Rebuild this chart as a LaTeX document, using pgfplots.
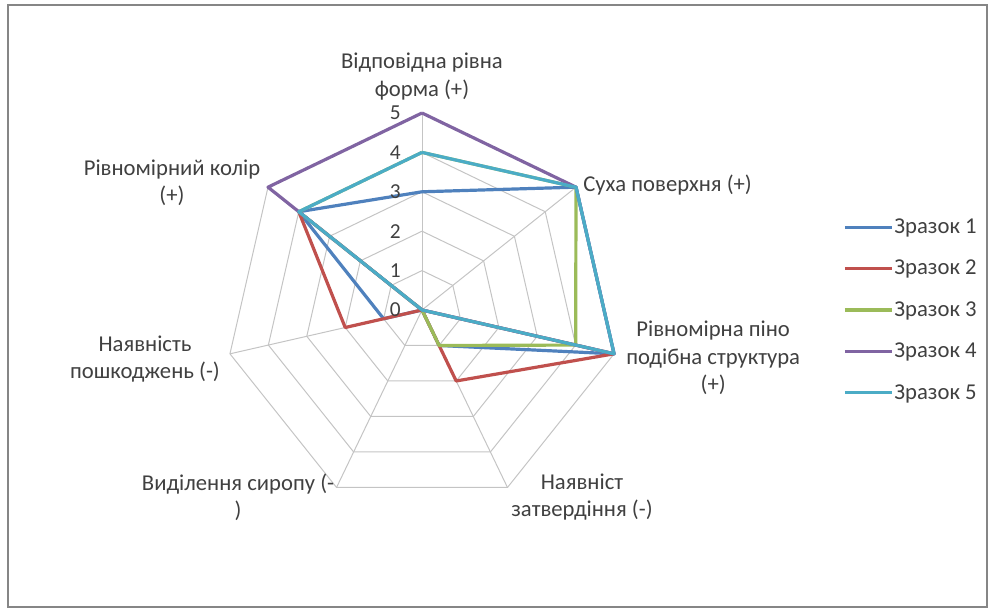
\documentclass[border=0pt]{standalone}
\usepackage{pgfplots}
\pgfplotsset{compat=1.18}
\usepackage{fontspec}
\setmainfont{Carlito}
\definecolor{s1}{HTML}{4F81BD}
\definecolor{s2}{HTML}{C0504D}
\definecolor{s3}{HTML}{9BBB59}
\definecolor{s4}{HTML}{8064A2}
\definecolor{s5}{HTML}{4BACC6}
\definecolor{gridc}{HTML}{C4C4C4}
\definecolor{framec}{HTML}{868686}
\definecolor{txt}{HTML}{404040}
\begin{document}
\begin{tikzpicture}
\begin{scope}[x=0.75pt,y=0.75pt]
\path[use as bounding box] (0,0) rectangle (989,611);
\draw[framec, line width=0.9pt] (8,4) rectangle (987,606);
\end{scope}
\begin{axis}[at={(153.98pt,63.23pt)}, anchor=south west, x=29.55pt, y=29.55pt,
  hide axis, xmin=-5.5, xmax=5.5, ymin=-5.5, ymax=5.5, clip=false,
  legend style={at={(1.4714,0.5)}, anchor=west, draw=none, fill=none,
    inner sep=0pt, row sep=16.5pt, font=\fontsize{17}{20}\selectfont\color{txt},
    nodes={inner sep=1pt}},
  legend cell align=left,
  legend image code/.code={\draw[#1,line width=2.4pt] (0pt,0pt) -- (35pt,0pt);},
  every axis plot/.append style={line join=round}]
% grid heptagons
\addplot[gridc, line width=0.75pt, data cs=polar, forget plot] coordinates {(90,1) (38.571429,1) (-12.857143,1) (-64.285714,1) (-115.714286,1) (-167.142857,1) (141.428571,1) (90,1)};
\addplot[gridc, line width=0.75pt, data cs=polar, forget plot] coordinates {(90,2) (38.571429,2) (-12.857143,2) (-64.285714,2) (-115.714286,2) (-167.142857,2) (141.428571,2) (90,2)};
\addplot[gridc, line width=0.75pt, data cs=polar, forget plot] coordinates {(90,3) (38.571429,3) (-12.857143,3) (-64.285714,3) (-115.714286,3) (-167.142857,3) (141.428571,3) (90,3)};
\addplot[gridc, line width=0.75pt, data cs=polar, forget plot] coordinates {(90,4) (38.571429,4) (-12.857143,4) (-64.285714,4) (-115.714286,4) (-167.142857,4) (141.428571,4) (90,4)};
\addplot[gridc, line width=0.75pt, data cs=polar, forget plot] coordinates {(90,5) (38.571429,5) (-12.857143,5) (-64.285714,5) (-115.714286,5) (-167.142857,5) (141.428571,5) (90,5)};
% spokes
\addplot[gridc, line width=0.75pt, data cs=polar, forget plot] coordinates {(90,0) (90,5)};
\addplot[gridc, line width=0.75pt, data cs=polar, forget plot] coordinates {(38.571429,0) (38.571429,5)};
\addplot[gridc, line width=0.75pt, data cs=polar, forget plot] coordinates {(-12.857143,0) (-12.857143,5)};
\addplot[gridc, line width=0.75pt, data cs=polar, forget plot] coordinates {(-64.285714,0) (-64.285714,5)};
\addplot[gridc, line width=0.75pt, data cs=polar, forget plot] coordinates {(-115.714286,0) (-115.714286,5)};
\addplot[gridc, line width=0.75pt, data cs=polar, forget plot] coordinates {(-167.142857,0) (-167.142857,5)};
\addplot[gridc, line width=0.75pt, data cs=polar, forget plot] coordinates {(141.428571,0) (141.428571,5)};
% series
\addplot[s1, line width=2.4pt, data cs=polar] coordinates {(90,3) (38.571429,5) (-12.857143,5) (-64.285714,1) (-115.714286,0) (-167.142857,1) (141.428571,4) (90,3)};
\addlegendentry{Зразок 1}
\addplot[s2, line width=2.4pt, data cs=polar] coordinates {(90,0) (38.571429,0) (-12.857143,5) (-64.285714,2) (-115.714286,0) (-167.142857,2) (141.428571,4) (90,0)};
\addlegendentry{Зразок 2}
\addplot[s3, line width=2.4pt, data cs=polar] coordinates {(90,4) (38.571429,5) (-12.857143,4) (-64.285714,1) (-115.714286,0) (-167.142857,0) (141.428571,4) (90,4)};
\addlegendentry{Зразок 3}
\addplot[s4, line width=2.4pt, data cs=polar] coordinates {(90,5) (38.571429,5) (-12.857143,5) (-64.285714,0) (-115.714286,0) (-167.142857,0) (141.428571,5) (90,5)};
\addlegendentry{Зразок 4}
\addplot[s5, line width=2.4pt, data cs=polar] coordinates {(90,4) (38.571429,5) (-12.857143,5) (-64.285714,0) (-115.714286,0) (-167.142857,0) (141.428571,4) (90,4)};
\addlegendentry{Зразок 5}
% value labels
\node[txt, font=\fontsize{16}{19}\selectfont, inner sep=0pt] at (axis cs:-0.68,0) {0};
\node[txt, font=\fontsize{16}{19}\selectfont, inner sep=0pt] at (axis cs:-0.68,1) {1};
\node[txt, font=\fontsize{16}{19}\selectfont, inner sep=0pt] at (axis cs:-0.68,2) {2};
\node[txt, font=\fontsize{16}{19}\selectfont, inner sep=0pt] at (axis cs:-0.68,3) {3};
\node[txt, font=\fontsize{16}{19}\selectfont, inner sep=0pt] at (axis cs:-0.68,4) {4};
\node[txt, font=\fontsize{16}{19}\selectfont, inner sep=0pt] at (axis cs:-0.68,5) {5};
\end{axis}
% category labels
\begin{scope}[x=0.75pt,y=0.75pt,every node/.style={txt, font=\fontsize{17}{20.5}\selectfont, inner sep=0pt, align=center}]
\node at (422,534.5) {Відповідна рівна\\форма (+)};
\node[anchor=west] at (583,426) {Суха поверхня (+)};
\node[anchor=west] at (626,253) {Рівномірна піно\\подібна структура\\(+)};
\node at (582,114) {Наявніст\\затвердіння (-)};
\node at (238,114) {Виділення сиропу (-\\)};
\node at (145,252) {Наявність\\пошкоджень (-)};
\node at (172,428) {Рівномірний колір\\(+)};
\end{scope}
\end{tikzpicture}
\end{document}
